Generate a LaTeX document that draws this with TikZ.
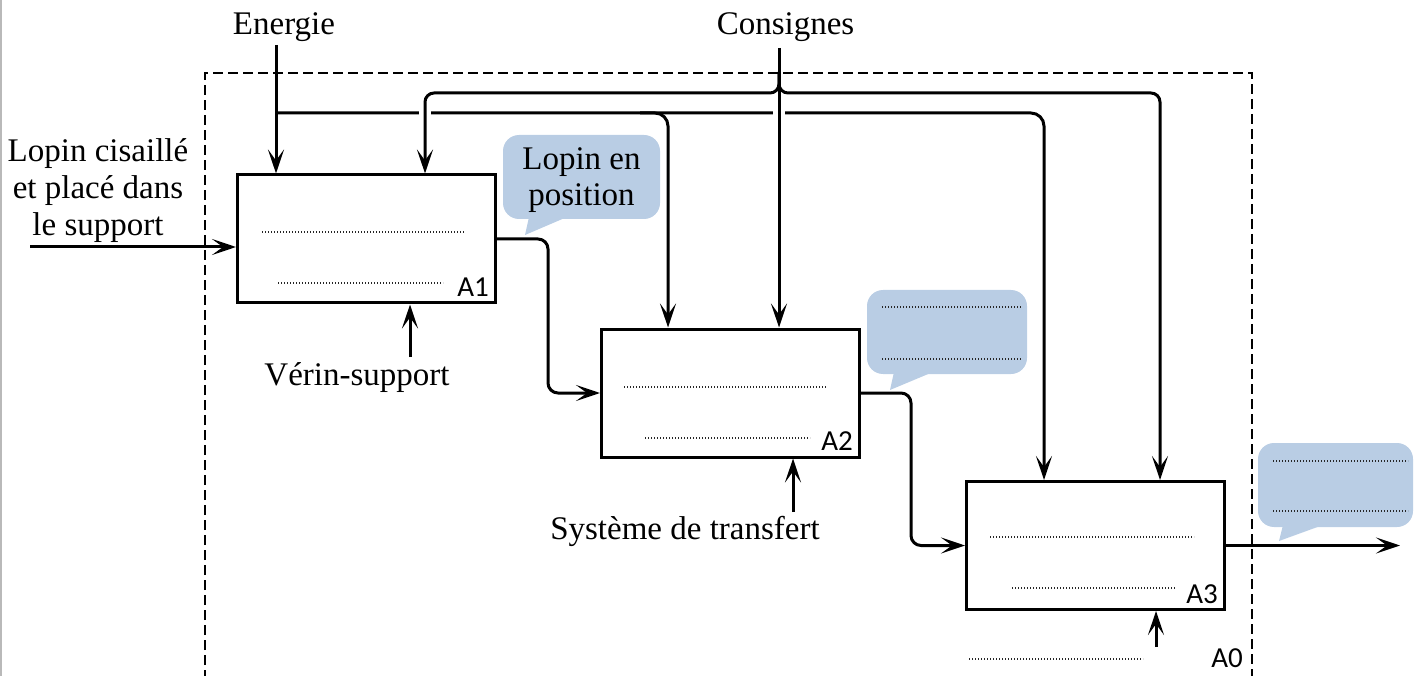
\documentclass[tikz,border=0pt]{standalone}
\usepackage{fontspec}
\setmainfont{Liberation Serif}
\newfontfamily\labfont{Carlito}
\usetikzlibrary{arrows.meta}
\definecolor{callblue}{RGB}{185,205,228}
\begin{document}
\begin{tikzpicture}[x=1pt,y=-1pt,
  box/.style={draw, line width=3pt, minimum width=258pt, minimum height=128pt, inner sep=0pt, fill=white},
  conn/.style={line width=3pt, -{Stealth[length=24pt,width=16pt,inset=11pt]}},
  dotl/.style={line width=1.4pt, dash pattern=on 1.4pt off 1.6pt, black!85},
  lbl/.style={font=\fontsize{33}{37}\selectfont, inner sep=0pt},
  num/.style={font=\labfont\fontsize{29}{30}\selectfont, inner sep=0pt},
  callout/.style={fill=callblue, rounded corners=16pt, inner sep=0pt},
]
\useasboundingbox (0,0) rectangle (1416,676);
% left border line
\draw[gray!55, line width=2pt] (1,0) -- (1,676);
% dashed frame A0
\draw[line width=1.3pt, dash pattern=on 10pt off 5pt] (205,680) -- (205,73) -- (1252,73) -- (1252,680);

% boxes
\node[box] (a1) at (366.5,239) {};
\node[box] (a2) at (730.5,393) {};
\node[box] (a3) at (1095.5,545.5) {};

% dotted lines in boxes
\draw[dotl] (262,232) -- (465,232);
\draw[dotl] (278,283) -- (443,283);
\draw[dotl] (624,387) -- (827,387);
\draw[dotl] (645,438) -- (810,438);
\draw[dotl] (990,537) -- (1194,537);
\draw[dotl] (1012,588) -- (1176,588);
\draw[dotl] (969,659) -- (1143,659);

% box numbers
\node[num, anchor=base east] (n1) at ([shift={(-8,-8)}]a1.south east) {A1};
\node[num, anchor=base east] (n2) at ([shift={(-8,-8)}]a2.south east) {A2};
\node[num, anchor=base east] (n3) at ([shift={(-8,-8)}]a3.south east) {A3};
\node[num, anchor=base east] (n0) at (1243,667) {A0};

% texts
\node[lbl, anchor=base] (energie) at (284,35) {Energie};
\node[lbl, anchor=base] (consignes) at (785.5,35) {Consignes};
\node[lbl, align=center] (lopin) at (98,191) {Lopin cisaillé\\et placé dans\\le support};
\node[lbl, anchor=base] (verin) at (357,385) {Vérin-support};
\node[lbl, anchor=base] (transfert) at (685,539) {Système de transfert};

% input / output flow
\coordinate (inL) at (30,247);
\draw[conn] (inL) -- (inL -| a1.west);
\draw[conn, rounded corners=10pt] (a1.east) -| ([xshift=-52pt]a2.west) -- (a2.west);
\draw[conn, rounded corners=10pt] (a2.east) -| ([xshift=-54pt]a3.west) -- (a3.west);
\coordinate (out3) at (1400,545.5);
\draw[conn] (a3.east) -- (out3);

% mechanisms
\coordinate (m1) at (410,357);
\draw[conn] (m1) -- (m1 |- a1.south);
\coordinate (m2) at (793,512);
\draw[conn] (m2) -- (m2 |- a2.south);
\coordinate (m3) at (1156,647);
\draw[conn] (m3) -- (m3 |- a3.south);

% energie
\coordinate (es) at (276,45);
\coordinate (ej) at (276,113);
\coordinate (e2) at (668,0);
\coordinate (e3) at (1044,0);
\draw[conn] (es) -- (es |- a1.north);
\draw[conn, rounded corners=13pt] (ej) -| (e3 |- a3.north);
\draw[conn, rounded corners=13pt] (640,113) -| (e2 |- a2.north);
% crossings gaps
\draw[white, line width=5pt] (419,113) -- (431,113);
\draw[white, line width=5pt] (773,113) -- (785,113);

% consignes
\coordinate (cs) at (779,48);
\coordinate (cj) at (779,72);
\coordinate (c1x) at (425,0);
\coordinate (c3x) at (1160,0);
\draw[conn] (cs) -- (cs |- a2.north);
\draw[conn, rounded corners=9pt] (cj) -- (779,93) -| (c1x |- a1.north);
\draw[conn, rounded corners=9pt] (cj) -- (779,93) -| (c3x |- a3.north);

% callouts
\node[callout, minimum width=157pt, minimum height=84pt] (k1) at (581.5,177) {};
\fill[callblue] (529,217) -- (525,235) -- (567,217) -- cycle;
\node[lbl, align=center, font=\fontsize{33}{36}\selectfont] (k1t) at ([yshift=-3pt]k1.center) {Lopin en\\position};

\node[callout, minimum width=160pt, minimum height=84pt] (k2) at (947,332) {};
\fill[callblue] (894,372) -- (890,390) -- (933,372) -- cycle;
\draw[dotl] (882,307) -- (1022,307);
\draw[dotl] (882,359) -- (1022,359);

\node[callout, minimum width=155pt, minimum height=84pt] (k3) at (1335.5,485) {};
\fill[callblue] (1283,525) -- (1279,541) -- (1323,525) -- cycle;
\draw[dotl] (1273,461) -- (1408,461);
\draw[dotl] (1273,511) -- (1408,511);
\end{tikzpicture}
\end{document}
